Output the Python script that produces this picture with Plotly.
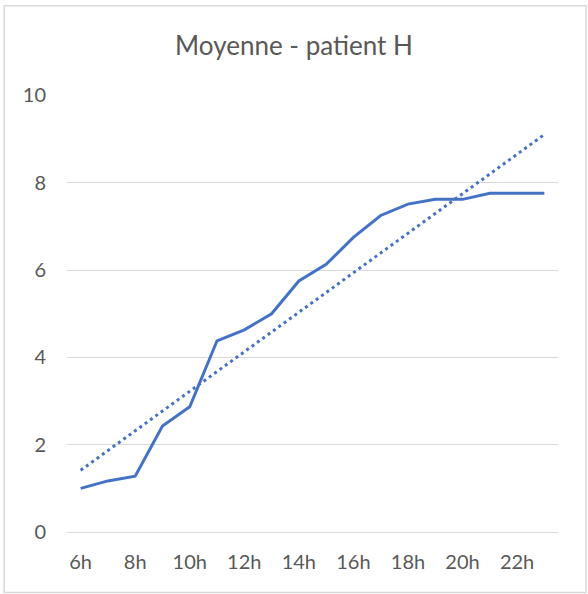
import numpy as np
import plotly.graph_objects as go

hours = ["6h", "7h", "8h", "9h", "10h", "11h", "12h", "13h", "14h", "15h", "16h", "17h",
         "18h", "19h", "20h", "21h", "22h", "23h"]
moyenne = [1.0, 1.17, 1.28, 2.43, 2.87, 4.38, 4.63, 5.0, 5.75, 6.13, 6.75, 7.25,
           7.51, 7.62, 7.62, 7.76, 7.76, 7.76]
tick_labels = ["6h", "8h", "10h", "12h", "14h", "16h", "18h", "20h", "22h"]
y_ticks = [0, 2, 4, 6, 8, 10]

idx = np.arange(len(hours))
slope, intercept = np.polyfit(idx, moyenne, 1)
trend = slope * idx + intercept

blue = "#4472C4"
grey = "#595959"

fig = go.Figure()
fig.add_trace(go.Scatter(x=hours, y=moyenne, mode="lines",
                         line=dict(color=blue, width=3), showlegend=False))
fig.add_trace(go.Scatter(x=hours, y=trend, mode="lines",
                         line=dict(color=blue, width=3, dash="3px,3.6px"), showlegend=False))

fig.update_layout(
    width=588, height=594,
    margin=dict(l=67, r=30, t=95, b=62),
    paper_bgcolor="white", plot_bgcolor="white",
    font=dict(family="Lato, Open Sans, sans-serif", color=grey, size=20),
    title=dict(text="Moyenne - patient H", x=0.5, xref="container", xanchor="center",
               y=1 - 46 / 594, yref="container", yanchor="middle",
               font=dict(size=26, color=grey)),
    xaxis=dict(type="category", categoryorder="array", categoryarray=hours,
               range=[-0.5, len(hours) - 0.5],
               tickmode="array", tickvals=tick_labels, ticktext=tick_labels,
               showgrid=False, showline=True, linecolor="#D9D9D9", linewidth=1,
               ticks="", ticklabelstandoff=12, zeroline=False),
    yaxis=dict(range=[0, 10.01], tickvals=y_ticks, showgrid=True, gridcolor="#D9D9D9",
               gridwidth=1, zeroline=False, showline=False, ticks="",
               ticklabelstandoff=20),
    shapes=[dict(type="rect", xref="paper", yref="paper",
                 x0=-0.128, x1=1.057, y0=-0.1386, y1=1.204,
                 line=dict(color="#D9D9D9", width=1.5), layer="below")],
)

fig.write_html("out.html", config={"displayModeBar": False},
               post_script="document.body.style.margin='0';document.body.style.overflow='hidden';")
